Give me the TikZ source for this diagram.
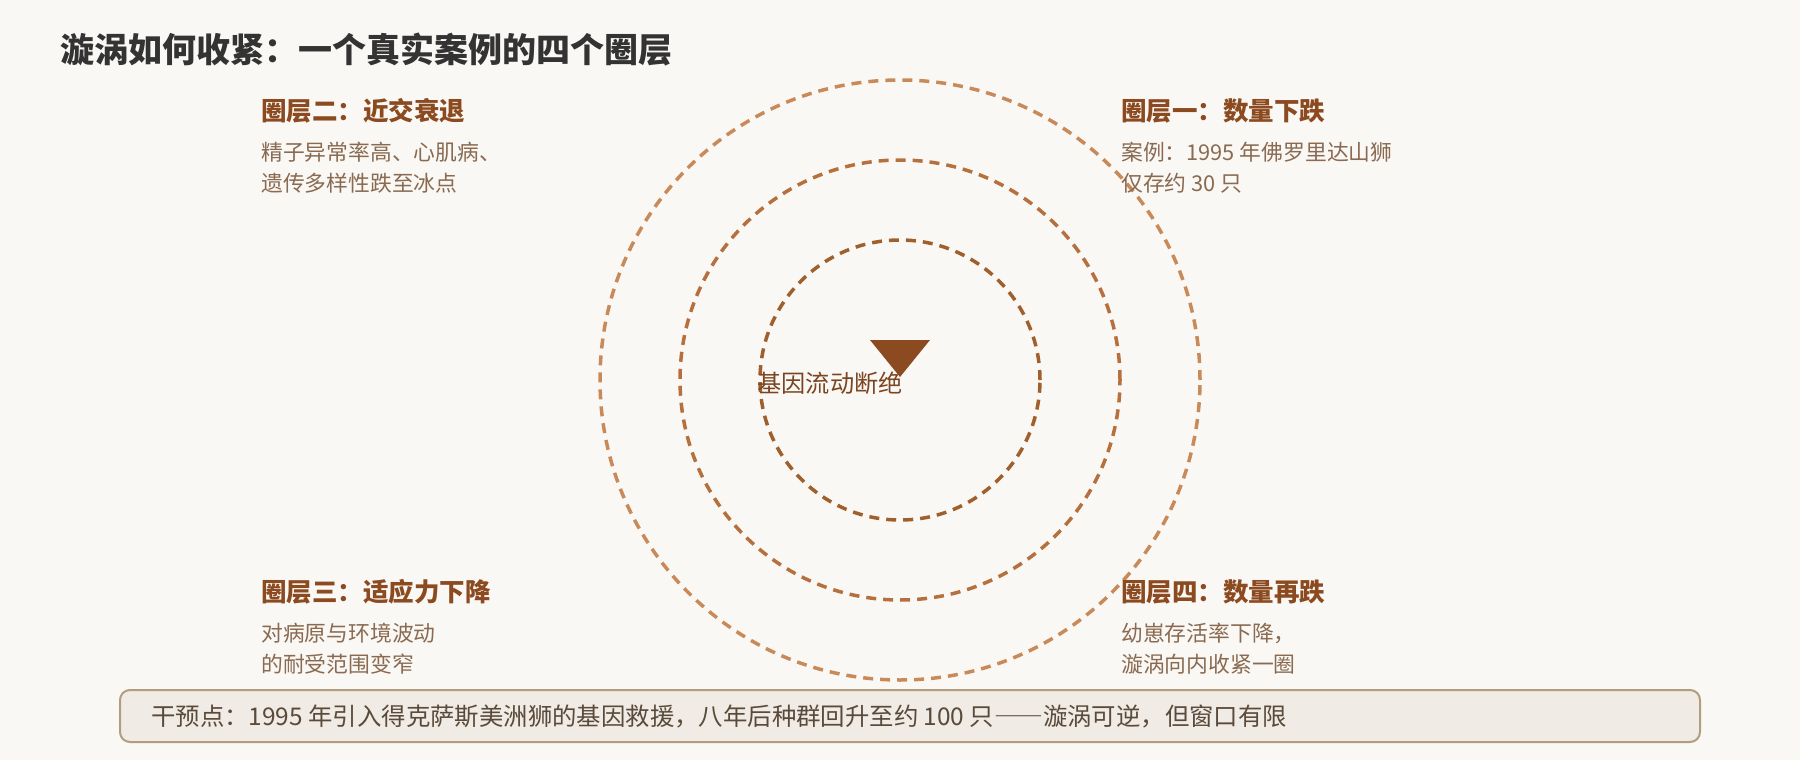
\documentclass[tikz,border=0pt]{standalone}
\usepackage{fontspec}
\setmainfont{Noto Sans CJK SC}
\definecolor{bgc}{HTML}{FAF8F5}
\definecolor{titlec}{HTML}{333333}
\definecolor{headc}{HTML}{8B4A1F}
\definecolor{bodyc}{HTML}{8A6A50}
\definecolor{ringa}{HTML}{C98A5A}
\definecolor{ringb}{HTML}{B5703E}
\definecolor{ringc}{HTML}{A0602E}
\definecolor{centerc}{HTML}{7A4520}
\definecolor{boxfill}{HTML}{F0EBE4}
\definecolor{boxline}{HTML}{B09E7E}
\definecolor{boxtext}{HTML}{5A4A3A}
\tikzset{
  ttl/.style={anchor=west, inner sep=0pt, text=titlec, font=\fontsize{34}{40}\selectfont\bfseries},
  hd/.style={anchor=west, inner sep=0pt, text=headc, font=\fontsize{25.5}{30}\selectfont\bfseries},
  bd/.style={anchor=west, inner sep=0pt, text=bodyc, align=left, font=\fontsize{21.8}{31}\selectfont},
  ring/.style={dash pattern=on 10pt off 7pt, line width=3.5pt},
  notebox/.style={draw=boxline, fill=boxfill, line width=2pt, rounded corners=10pt, minimum width=1580pt, minimum height=52pt, inner sep=0pt},
  notetext/.style={anchor=west, inner sep=0pt, text=boxtext, font=\fontsize{24.4}{28}\selectfont},
  ctr/.style={inner sep=0pt, text=centerc, font=\fontsize{24.2}{28}\selectfont}
}
\begin{document}
\begin{tikzpicture}[x=1pt, y=-1pt]
\useasboundingbox (0,0) rectangle (1800,760);
\fill[bgc] (0,0) rectangle (1800,760);
% title
\node[ttl] (title) at (60,50) {漩涡如何收紧：一个真实案例的四个圈层};
% rings
\coordinate (c) at (900,380);
\draw[ring, draw=ringa] (c) circle [radius=300pt];
\draw[ring, draw=ringb] (c) circle [radius=220pt];
\draw[ring, draw=ringc] (c) circle [radius=140pt];
% center marker
\coordinate (t1) at (870,340);
\coordinate (t2) at (930,340);
\coordinate (t3) at (900,377);
\fill[headc] (t1) -- (t2) -- (t3) -- cycle;
\node[ctr] (center) at (830,383) {基因流动断绝};
% layer one
\node[hd] (h1) at (1121,111) {圈层一：数量下跌};
\node[bd] (b1) at (1121,168) {案例：1995 年佛罗里达山狮\\仅存约 30 只};
% layer two
\node[hd] (h2) at (261,111) {圈层二：近交衰退};
\node[bd] (b2) at (261,168) {精子异常率高、心肌病、\\遗传多样性跌至冰点};
% layer three
\node[hd] (h3) at (261,592) {圈层三：适应力下降};
\node[bd] (b3) at (261,649) {对病原与环境波动\\的耐受范围变窄};
% layer four
\node[hd] (h4) at (1121,592) {圈层四：数量再跌};
\node[bd] (b4) at (1121,649) {幼崽存活率下降，\\漩涡向内收紧一圈};
% note box
\node[notebox] (note) at (910,716) {};
\node[notetext] (notet) at ([xshift=32pt]note.west) {干预点：1995 年引入得克萨斯美洲狮的基因救援，八年后种群回升至约 100 只{\addfontfeature{CharacterWidth=Full}——}漩涡可逆，但窗口有限};
\end{tikzpicture}
\end{document}
